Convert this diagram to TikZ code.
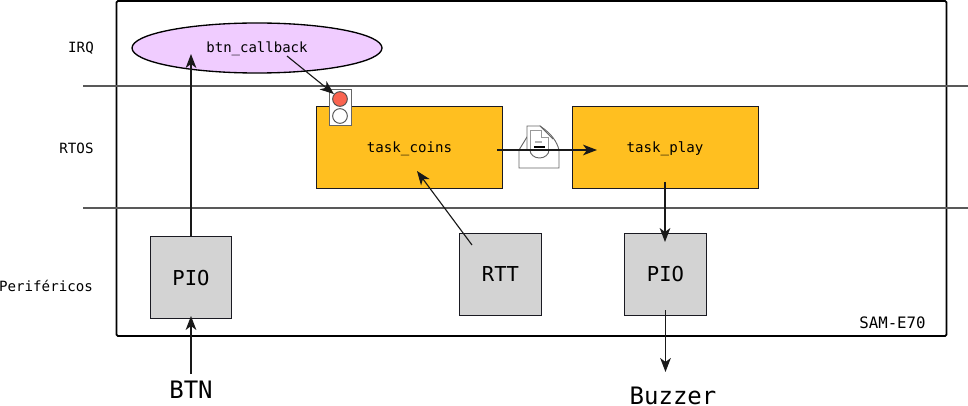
\documentclass[tikz,border=0pt]{standalone}
\usepackage{fontspec}
\setmainfont{DejaVu Sans Mono}
\usetikzlibrary{arrows.meta,shapes.geometric}
\definecolor{amber}{HTML}{FFBF20}
\definecolor{lilac}{HTML}{F0CCFF}
\definecolor{perif}{HTML}{D3D3D3}
\definecolor{edge}{HTML}{1A1A22}
\definecolor{lamp}{HTML}{FA6450}
\tikzset{
  x=0.75pt,y=-0.75pt,
  block/.style={draw=edge,line width=0.65pt,inner sep=0pt,anchor=center},
  task/.style={block,fill=amber,minimum width=139.5pt,minimum height=61.5pt,font=\fontsize{10.6}{12}\selectfont,text height=10pt,text depth=2pt},
  perbox/.style={block,fill=perif,minimum width=61pt,minimum height=62pt,font=\fontsize{15.4}{18}\selectfont},
  rowlabel/.style={inner sep=0pt,font=\fontsize{10.6}{12}\selectfont},
  outer/.style={inner sep=0pt,font=\fontsize{18}{22}\selectfont},
  rule/.style={draw=black!65,line width=0.9pt},
  conn/.style={draw=black!90,line width=0.85pt,-{Stealth[length=10.5pt,width=8pt,inset=3pt]}},
  icon/.style={draw=black!60,line width=0.7pt,fill=white},
}
\begin{document}
\begin{tikzpicture}
\useasboundingbox (0,0) rectangle (968,406);
% chip frame and row separators
\node[draw=black,line width=1.3pt,rounded corners=1pt,inner sep=0pt,minimum width=622.5pt,minimum height=251.2pt] (chip) at (531.5,168.5) {};
\coordinate (r1a) at (83,86); \coordinate (r1b) at (968,86);
\coordinate (r2a) at (83,208); \coordinate (r2b) at (968,208);
\draw[rule] (r1a) -- (r1b);
\draw[rule] (r2a) -- (r2b);
% row labels
\node[rowlabel] (irq) at (81,47.7) {IRQ};
\node[rowlabel] (rtos) at (76.5,148.3) {RTOS};
\node[rowlabel] (per) at (46,286) {Periféricos};
\node[inner sep=0pt,font=\fontsize{11.8}{14}\selectfont] (sam) at (892.5,323) {SAM-E70};
% nodes
\node[draw=black,line width=1pt,fill=lilac,ellipse,inner sep=0pt,minimum width=187.5pt,minimum height=37.5pt,font=\fontsize{10.5}{12}\selectfont,text height=9.5pt,text depth=2pt] (cb) at (257,48) {btn\_callback};
\node[task] (coins) at (409.5,147) {task\_coins};
\node[task] (play) at (665,147) {task\_play};
\node[perbox,text height=12.6pt,text depth=0pt] (pio1) at (191,277.5) {PIO};
\node[perbox] (rtt) at (500.5,274.5) {RTT};
\node[perbox] (pio2) at (665.5,274.5) {PIO};
\node[outer] (btn) at (191,390) {BTN};
\node[outer] (buz) at (673,396) {Buzzer};
% semaphore icon
\node[icon,minimum width=16.5pt,minimum height=27pt,inner sep=0pt] (sem) at (340.5,107.5) {};
\node[draw=black!70,line width=0.7pt,fill=lamp,circle,minimum size=11pt,inner sep=0pt] (red) at (340,99) {};
\node[draw=black!70,line width=0.7pt,fill=white,circle,minimum size=11pt,inner sep=0pt] (white) at (340,116) {};
% mailbox icon
\draw[icon] (519,150) -- (527,137) -- (540,126) .. controls (552,134) and (557,142) .. (559,150) -- cycle;
\draw[icon] (527,150) -- (527,126) -- (540,126) -- (553,139);
\draw[icon,draw=black!40] (530,160) -- (530,130) -- (541,130) -- (541,137) -- (548,137) -- (548,160);
\draw[draw=black!30,line width=0.9pt] (535,142) -- (542,142);
\draw[draw=black,line width=0.9pt] (534,147) -- (545,147);
\draw[icon,fill=white] (519,168) -- (519,150) -- (530,150) arc (180:0:9.5 and 8) -- (559,150) -- (559,168) -- cycle;
% connectors
\coordinate (btnout) at (191,374);
\coordinate (cbin) at (191,54);
\coordinate (cbout) at (287,56);
\coordinate (coinsout) at (497,150);
\coordinate (playin) at (597,150);
\coordinate (rttout) at (472,245);
\coordinate (coinsin) at (417,171);
\coordinate (playout) at (665,182);
\coordinate (pio2in) at (665,242);
\coordinate (pio2out) at (665.5,310);
\coordinate (buzin) at (665.5,372);
\coordinate (pio1in) at (191,316);
\draw[conn] (btnout) -- (pio1in);
\draw[conn] (pio1.north) -- (cbin);
\draw[conn] (cbout) -- (red);
\draw[conn] (coinsout) -- (playin);
\draw[conn] (rttout) -- (coinsin);
\draw[conn] (playout) -- (pio2in);
\draw[conn] (pio2out) -- (buzin);
\end{tikzpicture}
\end{document}
